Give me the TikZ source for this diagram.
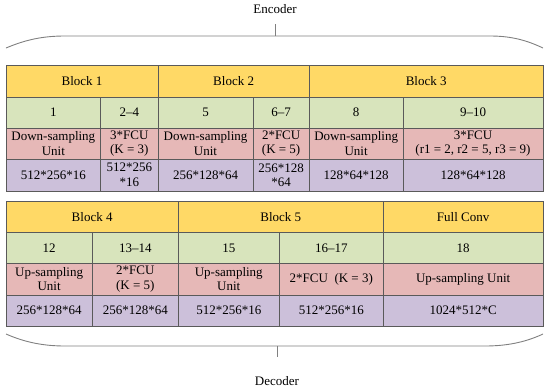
\documentclass[tikz,border=0pt]{standalone}
\usepackage{fontspec}
\setmainfont{Liberation Serif}
\definecolor{cyel}{HTML}{FFD966}
\definecolor{cgrn}{HTML}{D8E4BC}
\definecolor{cred}{HTML}{E6B8B7}
\definecolor{cpur}{HTML}{CCC0DA}
\definecolor{cbord}{HTML}{5A5A5A}
\definecolor{cbrace}{HTML}{808080}
\tikzset{
  cellbox/.style={draw=cbord, line width=0.7pt, inner sep=0pt, align=center,
    font=\fontsize{13}{14.5}\selectfont},
  bracepath/.style={draw=cbrace, line width=0.9pt},
  lbl/.style={font=\fontsize{13}{14.5}\selectfont, inner sep=0pt}
}
% name, x1, y1, x2, y2, colour, text
\newcommand\tcell[7]{%
  \node[cellbox, fill=#6, minimum width={(#4-#2)*1pt}, minimum height={(#5-#3)*1pt}]
    (#1) at ({(#2+#4)/2},{(#3+#5)/2}) {#7};}
\begin{document}
\begin{tikzpicture}[x=1pt,y=-1pt]
\useasboundingbox (0,0) rectangle (550,389);
% ---- top table
\tcell{b1}{6}{65}{158}{97}{cyel}{Block 1}
\tcell{b2}{158}{65}{309.3}{97}{cyel}{Block 2}
\tcell{b3}{309.3}{65}{543}{97}{cyel}{Block 3}
\tcell{n1}{6}{97}{100.7}{128}{cgrn}{1}
\tcell{n2}{100.7}{97}{158}{128}{cgrn}{2--4}
\tcell{n5}{158}{97}{253}{128}{cgrn}{5}
\tcell{n6}{253}{97}{309.3}{128}{cgrn}{6--7}
\tcell{n8}{309.3}{97}{403}{128}{cgrn}{8}
\tcell{n9}{403}{97}{543}{128}{cgrn}{9--10}
\tcell{u1}{6}{128}{100.7}{159}{cred}{Down-sampling\\Unit}
\tcell{u2}{100.7}{128}{158}{159}{cred}{3*FCU\\(K = 3)}
\tcell{u5}{158}{128}{253}{159}{cred}{Down-sampling\\Unit}
\tcell{u6}{253}{128}{309.3}{159}{cred}{2*FCU\\(K = 5)}
\tcell{u8}{309.3}{128}{403}{159}{cred}{Down-sampling\\Unit}
\tcell{u9}{403}{128}{543}{159}{cred}{3*FCU\\(r1 = 2, r2 = 5, r3 = 9)}
\tcell{s1}{6}{159}{100.7}{191}{cpur}{512*256*16}
\tcell{s2}{100.7}{159}{158}{191}{cpur}{512*256\\*16}
\tcell{s5}{158}{159}{253}{191}{cpur}{256*128*64}
\tcell{s6}{253}{159}{309.3}{191}{cpur}{256*128\\*64}
\tcell{s8}{309.3}{159}{403}{191}{cpur}{128*64*128}
\tcell{s9}{403}{159}{543}{191}{cpur}{128*64*128}
% ---- bottom table
\tcell{b4}{6}{201}{178.3}{232.3}{cyel}{Block 4}
\tcell{b5}{178.3}{201}{383.3}{232.3}{cyel}{Block 5}
\tcell{bf}{383.3}{201}{543}{232.3}{cyel}{Full Conv}
\tcell{n12}{6}{232.3}{92.3}{263.3}{cgrn}{12}
\tcell{n13}{92.3}{232.3}{178.3}{263.3}{cgrn}{13--14}
\tcell{n15}{178.3}{232.3}{279.3}{263.3}{cgrn}{15}
\tcell{n16}{279.3}{232.3}{383.3}{263.3}{cgrn}{16--17}
\tcell{n18}{383.3}{232.3}{543}{263.3}{cgrn}{18}
\tcell{u12}{6}{263.3}{92.3}{295}{cred}{Up-sampling\\Unit}
\tcell{u13}{92.3}{263.3}{178.3}{295}{cred}{2*FCU\\(K = 5)}
\tcell{u15}{178.3}{263.3}{279.3}{295}{cred}{Up-sampling\\Unit}
\tcell{u16}{279.3}{263.3}{383.3}{295}{cred}{2*FCU\ \ (K = 3)}
\tcell{u18}{383.3}{263.3}{543}{295}{cred}{Up-sampling Unit}
\tcell{s12}{6}{295}{92.3}{326}{cpur}{256*128*64}
\tcell{s13}{92.3}{295}{178.3}{326}{cpur}{256*128*64}
\tcell{s15}{178.3}{295}{279.3}{326}{cpur}{512*256*16}
\tcell{s16}{279.3}{295}{383.3}{326}{cpur}{512*256*16}
\tcell{s18}{383.3}{295}{543}{326}{cpur}{1024*512*C}
% ---- braces
\node[lbl] (enc) at (275,9) {Encoder};
\coordinate (etip) at (275,24);
\coordinate (emid) at (275,36);
\draw[bracepath] (6,48) .. controls (25,40) and (42,36) .. (65,36) -- (490,36)
  .. controls (513,36) and (528,41) .. (543,48);
\draw[bracepath] (emid) -- (etip);
\node[lbl] (dec) at (277,381) {Decoder};
\coordinate (dtip) at (277,357);
\coordinate (dmid) at (277,346);
\draw[bracepath] (6,334) .. controls (22,341) and (40,346) .. (65,346) -- (485,346)
  .. controls (510,346) and (528,341) .. (543,334);
\draw[bracepath] (dmid) -- (dtip);
\end{tikzpicture}
\end{document}
